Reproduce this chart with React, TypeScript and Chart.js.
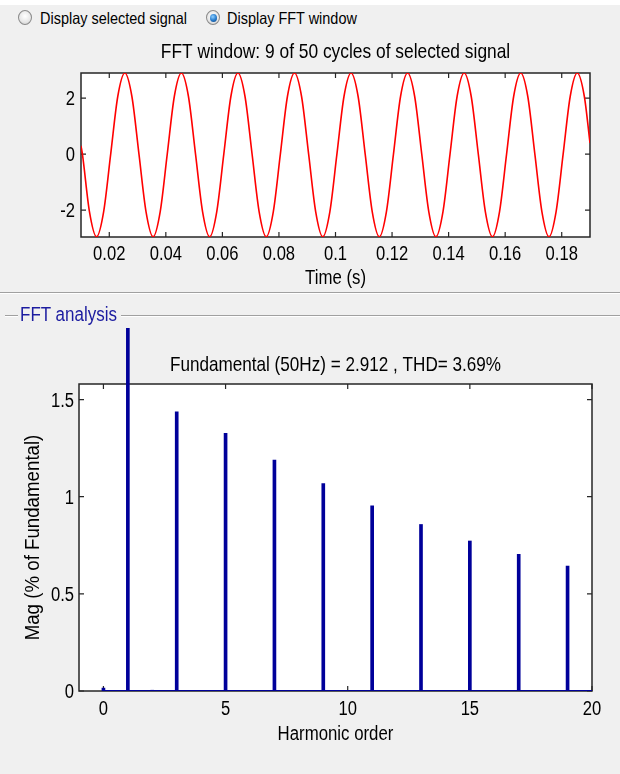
import React, { useEffect, useRef } from 'react';
import { Chart, registerables } from 'chart.js';

Chart.register(...registerables);

// ---- Top plot: FFT window signal ----
const timeS = [
  0.01,
  0.0105, 0.013, 0.0155, 0.018, 0.0205, 0.023, 0.0255, 0.028,
  0.0305, 0.033, 0.0355, 0.038, 0.0405, 0.043, 0.0455, 0.048,
  0.0505, 0.053, 0.0555, 0.058, 0.0605, 0.063, 0.0655, 0.068,
  0.0705, 0.073, 0.0755, 0.078, 0.0805, 0.083, 0.0855, 0.088,
  0.0905, 0.093, 0.0955, 0.098, 0.1005, 0.103, 0.1055, 0.108,
  0.1105, 0.113, 0.1155, 0.118, 0.1205, 0.123, 0.1255, 0.128,
  0.1305, 0.133, 0.1355, 0.138, 0.1405, 0.143, 0.1455, 0.148,
  0.1505, 0.153, 0.1555, 0.158, 0.1605, 0.163, 0.1655, 0.168,
  0.1705, 0.173, 0.1755, 0.178, 0.1805, 0.183, 0.1855, 0.188,
  0.19,
];
const signalV = [
  0.3,
  0, -2.06, -2.95, -2.06, 0, 2.06, 2.9, 2.06,
  0, -2.06, -2.95, -2.06, 0, 2.06, 2.9, 2.06,
  0, -2.06, -2.95, -2.06, 0, 2.06, 2.9, 2.06,
  0, -2.06, -2.95, -2.06, 0, 2.06, 2.9, 2.06,
  0, -2.06, -2.95, -2.06, 0, 2.06, 2.9, 2.06,
  0, -2.06, -2.95, -2.06, 0, 2.06, 2.9, 2.06,
  0, -2.06, -2.95, -2.06, 0, 2.06, 2.9, 2.06,
  0, -2.06, -2.95, -2.06, 0, 2.06, 2.9, 2.06,
  0, -2.06, -2.95, -2.06, 0, 2.06, 2.9, 2.06,
  0.4,
];
const timeTicks = [0.02, 0.04, 0.06, 0.08, 0.1, 0.12, 0.14, 0.16, 0.18];
const timeTickLabels = ['0.02', '0.04', '0.06', '0.08', '0.1', '0.12', '0.14', '0.16', '0.18'];
const signalTicks = [-2, 0, 2];
const signalTickLabels = ['-2', '0', '2'];

// ---- Bottom plot: FFT analysis ----
const harmonicOrder = [0, 1, 2, 3, 4, 5, 6, 7, 8, 9, 10, 11, 12, 13, 14, 15, 16, 17, 18, 19, 20];
const magPct = [0.015, 100, 0.004, 1.437, 0, 1.326, 0, 1.188, 0, 1.068, 0, 0.953, 0, 0.857, 0, 0.772, 0, 0.704, 0, 0.643, 0];
const zeroBinsRange = [0.05, 20];
const harmonicTicks = [0, 5, 10, 15, 20];
const harmonicTickLabels = ['0', '5', '10', '15', '20'];
const magTicks = [0, 0.5, 1, 1.5];
const magTickLabels = ['0', '0.5', '1', '1.5'];

const FONT = "'Liberation Sans', Arial, sans-serif";
const NAVY = '#00009a';

const framePlugin = {
  id: 'matlabFrame',
  beforeDraw(chart: any) {
    const { ctx, chartArea } = chart;
    const { left, right, top, bottom } = chartArea;
    ctx.save();
    ctx.fillStyle = '#ffffff';
    ctx.fillRect(left, top, right - left, bottom - top);
    ctx.restore();
  },
  beforeDatasetsDraw(chart: any) {
    const { ctx, chartArea } = chart;
    const { left, right, top, bottom } = chartArea;
    ctx.save();
    ctx.strokeStyle = '#262626';
    ctx.lineWidth = 1.5;
    ctx.strokeRect(left, top, right - left, bottom - top);
    const L = 5;
    ctx.lineWidth = 1.2;
    const xs = chart.scales.x;
    xs.ticks.forEach((t: any) => {
      const px = xs.getPixelForValue(t.value);
      ctx.beginPath();
      ctx.moveTo(px, bottom);
      ctx.lineTo(px, bottom - L);
      ctx.moveTo(px, top);
      ctx.lineTo(px, top + L);
      ctx.stroke();
    });
    const ys = chart.scales.y;
    ys.ticks.forEach((t: any) => {
      const py = ys.getPixelForValue(t.value);
      ctx.beginPath();
      ctx.moveTo(left, py);
      ctx.lineTo(left + L, py);
      ctx.moveTo(right, py);
      ctx.lineTo(right - L, py);
      ctx.stroke();
    });
    ctx.restore();
  },
};

type TextSpec = {
  title: string;
  titleDy: number;
  titleSx: number;
  xLabels: string[];
  xTickDy: number;
  yLabels: string[];
  yTickDx: number;
  xTitle: string;
  xTitleDy: number;
  yTitle?: string;
  yTitleDx?: number;
  yTitleSx?: number;
};

// MATLAB-style narrow text drawn on the chart canvas, positioned from the chart's own scales
function makeTextPlugin(spec: TextSpec) {
  return {
    id: 'narrowText',
    afterDraw(chart: any) {
      const { ctx, chartArea } = chart;
      const { left, right, top, bottom } = chartArea;
      const cx = (left + right) / 2;
      const put = (text: string, x: number, y: number, size: number, sx: number, align: string, rot = 0) => {
        ctx.save();
        ctx.translate(x, y);
        if (rot) ctx.rotate(rot);
        ctx.scale(sx, 1);
        ctx.font = `${size}px ${FONT}`;
        ctx.fillStyle = '#000';
        ctx.textAlign = align;
        ctx.textBaseline = 'alphabetic';
        ctx.fillText(text, 0, 0);
        ctx.restore();
      };
      put(spec.title, cx, top + spec.titleDy, 21, spec.titleSx, 'center');
      const xs = chart.scales.x;
      xs.ticks.forEach((t: any, i: number) => {
        put(spec.xLabels[i], xs.getPixelForValue(t.value), bottom + spec.xTickDy, 20, 0.83, 'center');
      });
      const ys = chart.scales.y;
      ys.ticks.forEach((t: any, i: number) => {
        put(spec.yLabels[i], left + spec.yTickDx, ys.getPixelForValue(t.value) + 7, 20, 0.83, 'right');
      });
      put(spec.xTitle, cx, bottom + spec.xTitleDy, 20, 0.84, 'center');
      if (spec.yTitle) {
        put(spec.yTitle, left + (spec.yTitleDx || 0), (top + bottom) / 2, 21, spec.yTitleSx || 0.85, 'center', -Math.PI / 2);
      }
    },
  };
}

function TopChart() {
  const ref = useRef<HTMLCanvasElement>(null);
  useEffect(() => {
    const chart = new Chart(ref.current as HTMLCanvasElement, {
      type: 'line',
      data: {
        datasets: [
          {
            data: timeS.map((t, i) => ({ x: t, y: signalV[i] })),
            borderColor: '#ff0000',
            borderWidth: 1.6,
            pointRadius: 0,
            cubicInterpolationMode: 'monotone',
            fill: false,
          },
        ],
      },
      options: {
        animation: false,
        responsive: false,
        maintainAspectRatio: false,
        events: [],
        layout: { padding: { left: 0, right: 30, top: 43, bottom: 0 } },
        plugins: {
          legend: { display: false },
          tooltip: { enabled: false },
          title: { display: false },
        },
        scales: {
          x: {
            type: 'linear',
            min: 0.01,
            max: 0.19,
            afterBuildTicks: (s: any) => {
              s.ticks = timeTicks.map((v) => ({ value: v }));
            },
            afterFit: (s: any) => {
              s.height = 55;
            },
            ticks: { display: false },
            grid: { display: false },
            border: { display: false },
          },
          y: {
            type: 'linear',
            min: -2.96,
            max: 2.9,
            afterBuildTicks: (s: any) => {
              s.ticks = signalTicks.map((v) => ({ value: v }));
            },
            afterFit: (s: any) => {
              s.width = 81;
            },
            ticks: { display: false },
            grid: { display: false },
            border: { display: false },
          },
        },
      },
      plugins: [
        framePlugin,
        makeTextPlugin({
          title: 'FFT window: 9 of 50 cycles of selected signal',
          titleDy: -15.5,
          titleSx: 0.827,
          xLabels: timeTickLabels,
          xTickDy: 23,
          yLabels: signalTickLabels,
          yTickDx: -6,
          xTitle: 'Time (s)',
          xTitleDy: 47,
        }),
      ],
    } as any);
    return () => chart.destroy();
  }, []);
  return <canvas ref={ref} width={620} height={262} style={{ position: 'absolute', left: 0, top: 30, width: 620, height: 262 }} />;
}

function BottomChart() {
  const ref = useRef<HTMLCanvasElement>(null);
  useEffect(() => {
    const chart = new Chart(ref.current as HTMLCanvasElement, {
      type: 'bar',
      data: {
        datasets: [
          {
            type: 'bar',
            data: harmonicOrder.map((h, i) => ({ x: h, y: magPct[i] })),
            backgroundColor: NAVY,
            borderWidth: 0,
            barThickness: 3,
            clip: { left: 0, top: 56, right: 0, bottom: 0 },
          },
          {
            type: 'line',
            data: zeroBinsRange.map((h) => ({ x: h, y: 0 })),
            borderColor: NAVY,
            borderWidth: 2,
            pointRadius: 0,
            fill: false,
          },
        ],
      },
      options: {
        animation: false,
        responsive: false,
        maintainAspectRatio: false,
        events: [],
        layout: { padding: { left: 0, right: 28, top: 64, bottom: 0 } },
        plugins: {
          legend: { display: false },
          tooltip: { enabled: false },
          title: { display: false },
        },
        scales: {
          x: {
            type: 'linear',
            min: -1,
            max: 20,
            offset: false,
            afterBuildTicks: (s: any) => {
              s.ticks = harmonicTicks.map((v) => ({ value: v }));
            },
            afterFit: (s: any) => {
              s.height = 83;
            },
            ticks: { display: false },
            grid: { display: false, offset: false },
            border: { display: false },
          },
          y: {
            type: 'linear',
            min: 0,
            max: 1.58,
            afterBuildTicks: (s: any) => {
              s.ticks = magTicks.map((v) => ({ value: v }));
            },
            afterFit: (s: any) => {
              s.width = 79;
            },
            ticks: { display: false },
            grid: { display: false },
            border: { display: false },
          },
        },
      },
      plugins: [
        framePlugin,
        makeTextPlugin({
          title: 'Fundamental (50Hz) = 2.912 , THD= 3.69%',
          titleDy: -13.5,
          titleSx: 0.815,
          xLabels: harmonicTickLabels,
          xTickDy: 24,
          yLabels: magTickLabels,
          yTickDx: -5,
          xTitle: 'Harmonic order',
          xTitleDy: 48.5,
          yTitle: 'Mag (% of Fundamental)',
          yTitleDx: -40.5,
          yTitleSx: 0.89,
        }),
      ],
    } as any);
    return () => chart.destroy();
  }, []);
  return <canvas ref={ref} width={620} height={454} style={{ position: 'absolute', left: 0, top: 320, width: 620, height: 454 }} />;
}

function Radio({ left, textLeft, checked, label }: { left: number; textLeft: number; checked: boolean; label: string }) {
  return (
    <>
      <div
        style={{
          position: 'absolute',
          left,
          top: 10,
          width: 14,
          height: 15,
          borderRadius: '50%',
          border: '1px solid #8a8a8a',
          background: 'radial-gradient(circle at 50% 40%, #ffffff 0%, #e6e6e6 60%, #c4c4c4 100%)',
          display: 'flex',
          alignItems: 'center',
          justifyContent: 'center',
          boxSizing: 'border-box',
        }}
      >
        {checked && (
          <div
            style={{
              width: 7,
              height: 8,
              borderRadius: '50%',
              background: 'radial-gradient(circle at 40% 35%, #8fd0ff 0%, #2a7fd0 50%, #0d3f7a 100%)',
            }}
          />
        )}
      </div>
      <div
        style={{
          position: 'absolute',
          left: textLeft,
          top: 7.5,
          height: 20,
          lineHeight: '20px',
          fontFamily: FONT,
          fontSize: 16.5,
          color: '#000',
          whiteSpace: 'nowrap',
          transform: 'scaleX(0.876)',
          transformOrigin: 'left center',
        }}
      >
        {label}
      </div>
    </>
  );
}

export default function App() {
  return (
    <div style={{ position: 'absolute', left: 0, top: 0, width: 620, height: 774, background: '#ffffff', overflow: 'hidden' }}>
      <div style={{ position: 'absolute', left: 0, top: 5, width: 620, height: 769, background: '#f0f0f0' }} />
      <Radio left={18} textLeft={39.5} checked={false} label="Display selected signal" />
      <Radio left={206} textLeft={227} checked={true} label="Display FFT window" />
      <TopChart />
      <div style={{ position: 'absolute', left: 0, top: 292, width: 620, height: 1, background: '#a0a0a0' }} />
      <div style={{ position: 'absolute', left: 0, top: 293, width: 620, height: 1, background: '#ffffff' }} />
      <div style={{ position: 'absolute', left: 5, top: 315, width: 13, height: 1, background: '#a0a0a0' }} />
      <div style={{ position: 'absolute', left: 5, top: 316, width: 13, height: 1, background: '#ffffff' }} />
      <div style={{ position: 'absolute', left: 121, top: 315, width: 499, height: 1, background: '#a0a0a0' }} />
      <div style={{ position: 'absolute', left: 121, top: 316, width: 499, height: 1, background: '#ffffff' }} />
      <BottomChart />
      <div
        style={{
          position: 'absolute',
          left: 20,
          top: 303,
          height: 22,
          lineHeight: '22px',
          fontFamily: FONT,
          fontSize: 20,
          color: '#1c1ca0',
          whiteSpace: 'nowrap',
          transform: 'scaleX(0.85)',
          transformOrigin: 'left center',
        }}
      >
        FFT analysis
      </div>
    </div>
  );
}
